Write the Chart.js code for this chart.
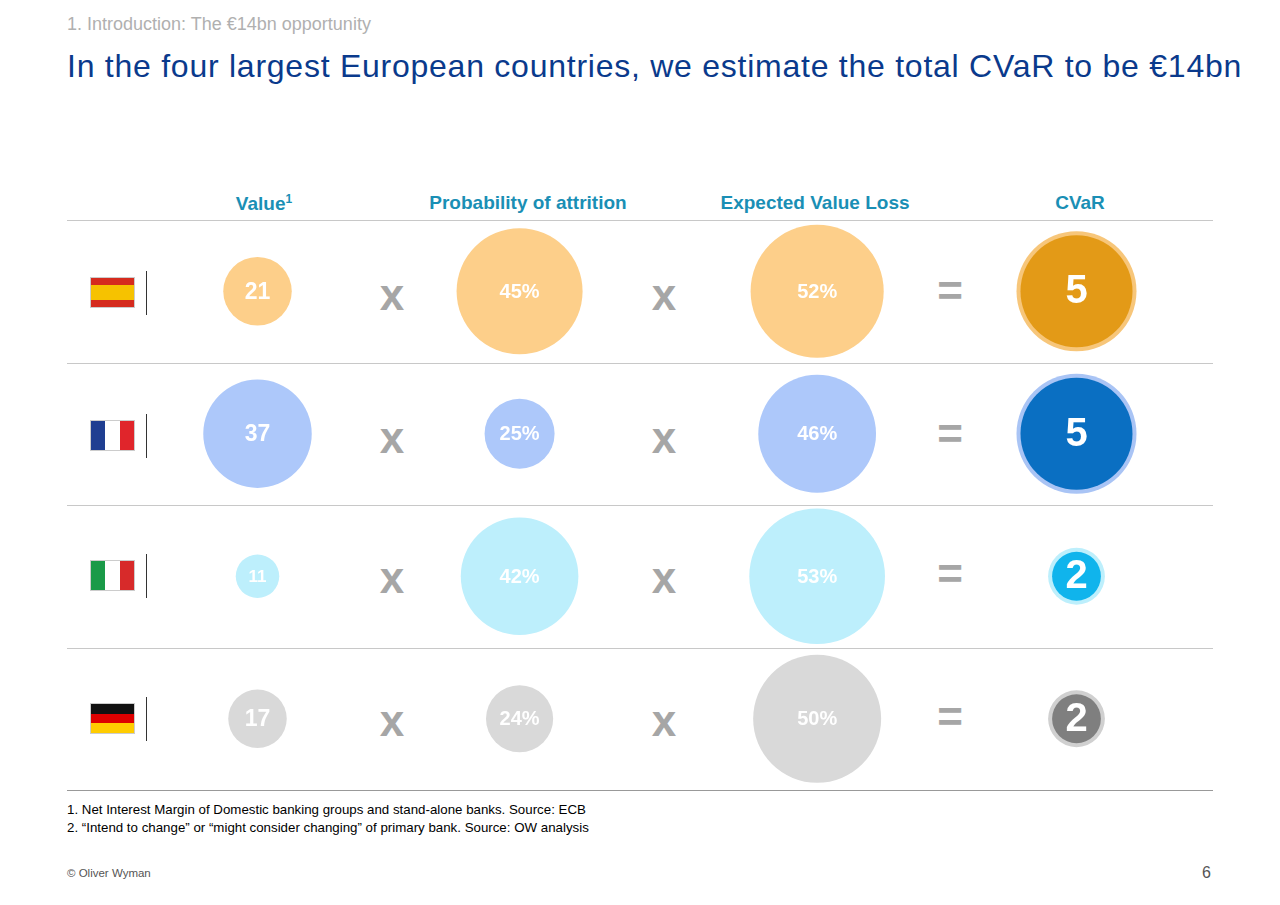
<!DOCTYPE html>
<html><head><meta charset="utf-8">
<script src="https://cdn.jsdelivr.net/npm/chart.js@4"></script>
<style>
body{margin:0;width:1280px;height:905px;background:#fff;font-family:Arial,"Liberation Sans",sans-serif;position:relative;overflow:hidden}
.a{position:absolute}
.hl{position:absolute;left:67px;width:1146px;height:1px;background:#c8c8c8}
.hd{position:absolute;top:192px;color:#1a8fb5;font-weight:bold;font-size:19px;transform:translateX(-50%);white-space:nowrap}
.op{position:absolute;color:#a6a6a6;font-weight:bold;font-size:44px;transform:translate(-50%,-50%)}
.flag{position:absolute;left:91px;width:43px;height:29px;display:flex}
.vl{position:absolute;left:146px;width:1px;height:44px;background:#333}
</style></head><body>
<div class="a" style="left:67px;top:14px;color:#b0b0b0;font-size:18px">1. Introduction: The €14bn opportunity</div>
<div class="a" style="left:67px;top:48px;color:#0a3a8c;font-size:32px;letter-spacing:0.75px">In the four largest European countries, we estimate the total CVaR to be €14bn</div>
<div class="hd" style="left:264px">Value<sup style="font-size:12px">1</sup></div>
<div class="hd" style="left:528px">Probability of attrition</div>
<div class="hd" style="left:815px">Expected Value Loss</div>
<div class="hd" style="left:1080px">CVaR</div>
<div class="hl" style="top:220px"></div><div class="hl" style="top:363px"></div><div class="hl" style="top:505px"></div><div class="hl" style="top:648px"></div><div class="hl" style="top:790px;background:#999"></div>
<div id="signs"></div>
<canvas id="c" class="a" style="left:121px;top:220px"></canvas>
<div class="a" style="left:67px;top:801px;font-size:13.3px;line-height:18px">1. Net Interest Margin of Domestic banking groups and stand-alone banks. Source: ECB<br>2. “Intend to change” or “might consider changing” of primary bank. Source: OW analysis</div>
<div class="a" style="left:67px;top:867px;font-size:11.5px;color:#555">© Oliver Wyman</div>
<div class="a" style="left:1202px;top:864px;font-size:16px;color:#555">6</div>
<script>
const countries = ['Spain', 'France', 'Italy', 'Germany'];
const columns = ['Value', 'Probability of attrition', 'Expected Value Loss', 'CVaR'];
const valueBn = [21, 37, 11, 17];
const attritionPct = [45, 25, 42, 24];
const evlPct = [52, 46, 53, 50];
const cvarBn = [5, 5, 2, 2];
const cvarLabels = ['5', '5', '2', '2'];

const light = ['#fdcf8a', '#adc8fa', '#bdeffc', '#d9d9d9'];
const ring = ['#f7c67a', '#a9c4f5', '#bdeffc', '#d0d0d0'];
const dark = ['#e39a17', '#0a6fc2', '#10b4ec', '#7f7f7f'];
const flags = [
  ['column', ['#d52b1e', '#f6c200', '#f6c200', '#d52b1e']],
  ['row', ['#1f3e91', '#fff', '#e0252b']],
  ['row', ['#1a9a48', '#fff', '#d72a2a']],
  ['column', ['#111', '#dd0000', '#ffcc00']]
];
const rowY = [293, 436, 576, 719];
let html = '';
rowY.forEach((y, i) => {
  const f = flags[i];
  html += `<div class="flag" style="top:${y - 15}px;flex-direction:${f[0]};outline:1px solid #ccc">` +
    f[1].map(c => `<div style="flex:1;background:${c}"></div>`).join('') + '</div>';
  html += `<div class="vl" style="top:${y - 22}px"></div>`;
  html += `<div class="op" style="left:392px;top:${y + 2}px">x</div><div class="op" style="left:664px;top:${y + 2}px">x</div><div class="op" style="left:950px;top:${y - 2}px">=</div>`;
});
document.getElementById('signs').innerHTML = html;

// radius scales per column (pixels per unit)
const rValue = v => 8 + 1.25 * v;
const rPct = v => 1.4 * v;
const rEvl = v => 1.28 * v;
const rCvar = v => 11.2 * v + (v < 3 ? 2 : 0);
// slight horizontal nudge of the middle columns (layout only)
const colX = [0, 0.96, 2.05, 3];

const pts = [], cvarOuter = [], cvarInner = [];
countries.forEach((c, i) => {
  pts.push({x: colX[0], y: i, r: rValue(valueBn[i]), label: String(valueBn[i]), col: light[i], fs: valueBn[i] < 15 ? 17 : 23});
  pts.push({x: colX[1], y: i, r: rPct(attritionPct[i]), label: attritionPct[i] + '%', col: light[i], fs: 20});
  pts.push({x: colX[2], y: i, r: rEvl(evlPct[i]), label: evlPct[i] + '%', col: light[i], fs: 20});
  cvarOuter.push({x: colX[3], y: i, r: rCvar(cvarBn[i]) + 4, col: ring[i]});
  cvarInner.push({x: colX[3], y: i, r: rCvar(cvarBn[i]), label: cvarLabels[i], col: dark[i], fs: 40});
});

const labels = {
  id: 'labels',
  afterDatasetsDraw(chart) {
    const ctx = chart.ctx;
    [0, 2].forEach(di => {
      chart.getDatasetMeta(di).data.forEach((el, k) => {
        const d = chart.data.datasets[di].data[k];
        ctx.save();
        ctx.fillStyle = '#fff';
        ctx.font = `bold ${d.fs}px Arial, "Liberation Sans"`;
        ctx.textAlign = 'center'; ctx.textBaseline = 'middle';
        ctx.fillText(d.label, el.x, el.y + 1);
        ctx.restore();
      });
    });
  }
};

const cv = document.getElementById('c');
cv.width = 1092; cv.height = 570;
new Chart(cv, {
  type: 'bubble',
  data: {
    datasets: [
      {data: pts, backgroundColor: pts.map(p => p.col), borderWidth: 0, order: 1},
      {data: cvarOuter, backgroundColor: cvarOuter.map(p => p.col), borderWidth: 0, order: 3},
      {data: cvarInner, backgroundColor: cvarInner.map(p => p.col), borderWidth: 0, order: 2}
    ]
  },
  options: {
    responsive: false, animation: false,
    layout: {padding: 0, autoPadding: false},
    plugins: {legend: {display: false}, tooltip: {enabled: false}},
    scales: {
      x: {type: 'linear', min: -0.5, max: 3.5, display: false},
      y: {type: 'linear', min: -0.5, max: 3.5, reverse: true, display: false}
    },
    clip: false
  },
  plugins: [labels]
});
</script>
</body></html>
